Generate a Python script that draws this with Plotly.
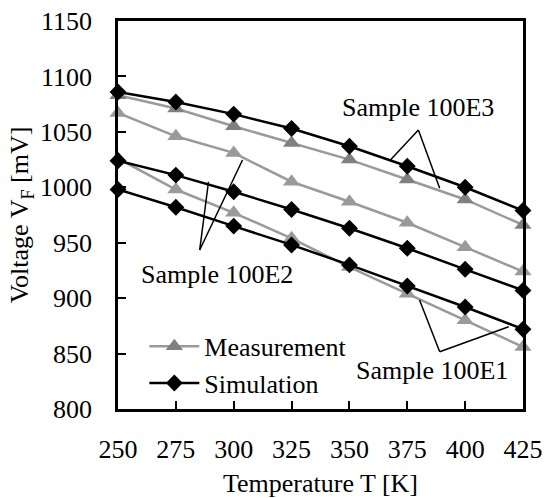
import plotly.graph_objects as go

# ---- data ----
temperature = [250, 275, 300, 325, 350, 375, 400, 425]
meas_100E3 = [1083, 1071, 1055, 1040, 1025, 1007, 989, 966]
sim_100E3 = [1086, 1077, 1066, 1053, 1037, 1019, 1000, 979]
meas_100E2 = [1067, 1046, 1031, 1005, 987, 968, 946, 924]
sim_100E2 = [1024, 1011, 996, 980, 963, 945, 926, 907]
meas_100E1 = [1026, 998, 977, 954, 928, 904, 880, 856]
sim_100E1 = [998, 982, 965, 948, 930, 911, 892, 872]

sample_labels = ["Sample 100E3", "Sample 100E2", "Sample 100E1"]
# label position (x, y), leader apex, leader ends
label_pos = [(379.8, 1072.4), (292.8, 920.9), (385.7, 834.7)]
leader_apex = [(379.8, 1051.7), (285.3, 943.4), (389.0, 851.7)]
leader_ends = [[(367.7, 1024.6), (389.0, 999.1)],
               [(289.1, 1005.0), (303.8, 1024.6)],
               [(380.3, 898.3), (418.8, 874.2)]]

FONT = "'Liberation Serif', 'Times New Roman', Times, serif"
FS = 26
GRAY_LINE = "#9a9a9a"
GRAY_DARK = "#808080"

fig = go.Figure()

meas_sets = [(meas_100E3, GRAY_DARK, True), (meas_100E2, GRAY_LINE, False), (meas_100E1, GRAY_LINE, False)]
for vals, mcol, show in meas_sets:
    fig.add_trace(go.Scatter(
        x=temperature, y=vals, mode="lines+markers", name="Measurement",
        showlegend=show, legendrank=1,
        line=dict(color=GRAY_LINE, width=2.5),
        marker=dict(symbol="triangle-up", size=15, color=mcol),
        cliponaxis=False))

for i, vals in enumerate([sim_100E3, sim_100E2, sim_100E1]):
    fig.add_trace(go.Scatter(
        x=temperature, y=vals, mode="lines+markers", name="Simulation",
        showlegend=(i == 0), legendrank=2,
        line=dict(color="black", width=2.5),
        marker=dict(symbol="diamond", size=13, color="black"),
        cliponaxis=False))

for lab, (lx, ly), (ax_, ay_), ends in zip(sample_labels, label_pos, leader_apex, leader_ends):
    fig.add_annotation(x=lx, y=ly, xref="x", yref="y", text=lab, showarrow=False,
                       font=dict(family=FONT, size=FS, color="black"))
    for ex, ey in ends:
        fig.add_shape(type="line", xref="x", yref="y", x0=ax_, y0=ay_, x1=ex, y1=ey,
                      line=dict(color="black", width=1.5))

fig.update_layout(
    width=546, height=498,
    margin=dict(l=118, r=23, t=21, b=89),
    paper_bgcolor="white", plot_bgcolor="white",
    font=dict(family=FONT, size=FS, color="black"),
    showlegend=True,
    legend=dict(x=0.065, y=0.222, xanchor="left", yanchor="top",
                bgcolor="rgba(0,0,0,0)", font=dict(family=FONT, size=FS),
                itemwidth=50, tracegroupgap=0),
)
fig.update_xaxes(
    range=[250, 425], tickmode="linear", tick0=250, dtick=25,
    showline=True, linecolor="black", linewidth=2.5, mirror=True,
    ticks="inside", ticklen=8, tickwidth=2, tickcolor="black",
    showgrid=False, zeroline=False, ticklabelstandoff=15, automargin=False,
    tickfont=dict(family=FONT, size=FS),
    title=dict(text="Temperature T [K]", standoff=22, font=dict(family=FONT, size=FS)),
)
fig.update_yaxes(
    range=[800, 1150], tickmode="linear", tick0=800, dtick=50,
    showline=True, linecolor="black", linewidth=2.5, mirror=True,
    ticks="inside", ticklen=8, tickwidth=2, tickcolor="black",
    showgrid=False, zeroline=False, ticklabelstandoff=18, automargin=False,
    tickfont=dict(family=FONT, size=FS),
    title=dict(text="Voltage V<sub>F</sub> [mV]", standoff=4, font=dict(family=FONT, size=FS)),
)

fig.write_html("out.html")
